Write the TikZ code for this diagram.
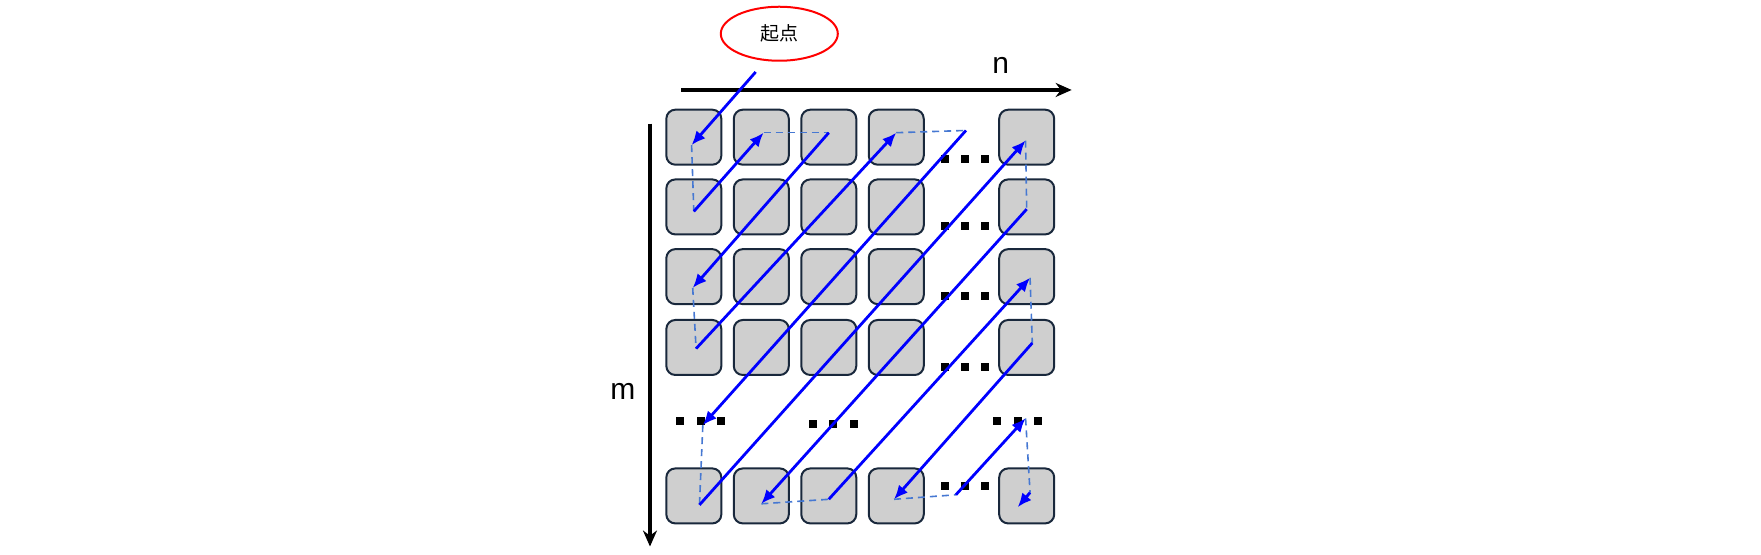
\documentclass[tikz,border=0pt]{standalone}
\usepackage{fontspec}
\setmainfont{Liberation Sans}
\newfontfamily\cjk{Noto Sans CJK SC}
\usetikzlibrary{arrows.meta,shapes.geometric}
\begin{document}
\begin{tikzpicture}[x=1.1245pt,y=-1.1245pt,
  cell/.style={draw={rgb,255:red,25;green,40;blue,60},fill=gray!38,line width=2pt,rounded corners=9pt,minimum width=55pt,minimum height=55pt,inner sep=0pt},
  solid blue/.style={blue,line width=2.8pt,-{Latex[length=14pt,width=12pt]}},
  dash blue/.style={draw={rgb,255:red,70;green,120;blue,210},line width=1.6pt,dash pattern=on 7pt off 5pt},
  axis/.style={line width=3.8pt,-{Stealth[length=16pt,width=14pt]}},
  dot/.style={fill=black,minimum size=8pt,inner sep=0pt}]
\useasboundingbox (0,0) rectangle (1566,493.5);
% cells
\foreach \c/\x in {1/617,2/677,3/737,4/797,5/913}{
  \foreach \r/\y in {1/122,2/184,3/246,4/309,6/441}{
    \node[cell] (b\c\r) at (\x,\y) {};
  }}
% dots
\foreach \i/\x/\y in {a/840/141,b/840/201,c/840/263,d/840/326,e/605/374,f/723/377,g/887/374,h/840/432}{
  \node[dot] (\i1) at (\x,\y) {};
  \node[dot] (\i2) at (\x+18,\y) {};
  \node[dot] (\i3) at (\x+36,\y) {};
}
% axes
\coordinate (nx0) at (606,80); \coordinate (nx1) at (953,80);
\coordinate (my0) at (578,110); \coordinate (my1) at (578,486);
\draw[axis] (nx0) -- (nx1);
\draw[axis] (my0) -- (my1);
\node[font=\fontsize{30}{30}\selectfont] (nlab) at (890,58) {n};
\node[font=\fontsize{30}{30}\selectfont] (mlab) at (554,348) {m};
% start
\node[draw=red,line width=2pt,ellipse,minimum width=117pt,minimum height=54pt,font=\cjk\fontsize{19}{19}\selectfont] (start) at (693,30) {起点};
% path coordinates
\coordinate (p0) at (672,64);
\coordinate (p1) at (615,129);
\coordinate (p2) at (617,188);
\coordinate (p3) at (679,118);
\coordinate (p4) at (737,118);
\coordinate (p5) at (616,256);
\coordinate (p6) at (619,310);
\coordinate (p7) at (797,118);
\coordinate (p8) at (859,116);
\coordinate (p9) at (625,378);
\coordinate (p10) at (622,449);
\coordinate (p11) at (912,125);
\coordinate (p12) at (913,186);
\coordinate (p13) at (677,448);
\coordinate (p14) at (737,444);
\coordinate (p15) at (916,247);
\coordinate (p16) at (918,305);
\coordinate (p17) at (795,444);
\coordinate (p18) at (850,440);
\coordinate (p19) at (912,372);
\coordinate (p20) at (916,438);
\coordinate (p21) at (905,451);
\draw[solid blue] (p0) -- (p1);
\draw[dash blue] (p1) -- (p2);
\draw[solid blue] (p2) -- (p3);
\draw[dash blue] (p3) -- (p4);
\draw[solid blue] (p4) -- (p5);
\draw[dash blue] (p5) -- (p6);
\draw[solid blue] (p6) -- (p7);
\draw[dash blue] (p7) -- (p8);
\draw[solid blue] (p8) -- (p9);
\draw[dash blue] (p9) -- (p10);
\draw[solid blue] (p10) -- (p11);
\draw[dash blue] (p11) -- (p12);
\draw[solid blue] (p12) -- (p13);
\draw[dash blue] (p13) -- (p14);
\draw[solid blue] (p14) -- (p15);
\draw[dash blue] (p15) -- (p16);
\draw[solid blue] (p16) -- (p17);
\draw[dash blue] (p17) -- (p18);
\draw[solid blue] (p18) -- (p19);
\draw[dash blue] (p19) -- (p20);
\draw[solid blue] (p20) -- (p21);
\end{tikzpicture}
\end{document}
